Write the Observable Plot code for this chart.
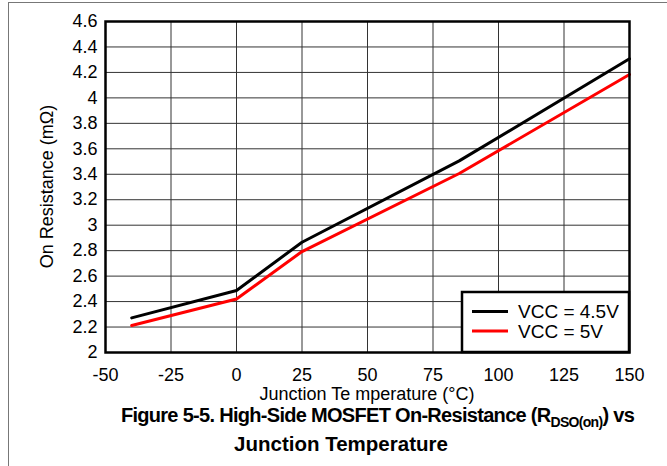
<!DOCTYPE html>
<html><head><meta charset="utf-8">
<script src="https://cdn.jsdelivr.net/npm/d3@7"></script>
<script src="https://cdn.jsdelivr.net/npm/@observablehq/plot@0.6"></script>
<style>
body{margin:0;background:#fff;}
#wrap{position:relative;width:667px;height:466px;overflow:hidden;font-family:"Liberation Sans",Arial,sans-serif;}
#edge{position:absolute;left:8px;top:2px;width:700px;height:500px;border-top:1.5px solid #777;border-left:1.5px solid #777;pointer-events:none;}
</style></head>
<body><div id="wrap"><div id="edge"></div></div>
<script>
// Data
const temps45 = [-40, 0, 25, 85, 150];
const vcc45 = [2.272, 2.487, 2.866, 3.505, 4.307];
const temps5 = [-40, 0, 25, 85, 150];
const vcc5 = [2.212, 2.42, 2.793, 3.406, 4.184];
const seriesNames = ["VCC = 4.5V", "VCC = 5V"];
const seriesColors = ["#000000", "#ff0000"];
const xTicks = [-50, -25, 0, 25, 50, 75, 100, 125, 150];
const yTicks = [2, 2.2, 2.4, 2.6, 2.8, 3, 3.2, 3.4, 3.6, 3.8, 4, 4.2, 4.4, 4.6];
const xLabel = "Junction Te mperature (°C)";
const yLabel = "On Resistance (mΩ)";
const titleLine1 = "Figure 5-5. High-Side MOSFET On-Resistance (R";
const titleSub = "DSO(on)";
const titleLine1End = ") vs";
const titleLine2 = "Junction Temperature";

const data = [
  ...temps45.map((t, i) => ({t, r: vcc45[i], s: seriesNames[0]})),
  ...temps5.map((t, i) => ({t, r: vcc5[i], s: seriesNames[1]}))
];

const font = "Liberation Sans, Arial, sans-serif";
const chart = Plot.plot({
  width: 667, height: 466,
  marginLeft: 105, marginRight: 38, marginTop: 21, marginBottom: 114,
  style: {fontFamily: font, fontSize: "18px", background: "transparent", color: "#000", overflow: "visible"},
  x: {domain: [-50, 150], label: null},
  y: {domain: [2, 4.6], label: null},
  color: {domain: seriesNames, range: seriesColors},
  marks: [
    Plot.gridX(xTicks, {stroke: "#333", strokeOpacity: 1, strokeWidth: 1}),
    Plot.gridY(yTicks, {stroke: "#333", strokeOpacity: 1, strokeWidth: 1}),
    Plot.axisX(xTicks, {tickSize: 0, tickPadding: 16, fontSize: 18, label: null, tickFormat: d => String(d)}),
    Plot.axisY(yTicks, {tickSize: 0, tickPadding: 8, fontSize: 18, label: null, tickFormat: d => String(d)}),
    Plot.line(data, {x: "t", y: "r", z: "s", stroke: "s", strokeWidth: 3, strokeLinejoin: "miter"}),
    Plot.frame({stroke: "#000", strokeWidth: 2.5})
  ]
});
document.getElementById("wrap").appendChild(chart);

const svg = d3.select(chart);
const xs = chart.scale("x"), ys = chart.scale("y");
const x0 = xs.apply(-50), x1 = xs.apply(150), yTop = ys.apply(4.6), yBot = ys.apply(2);
const cx = (x0 + x1) / 2;

// axis labels
svg.append("text").attr("x", cx).attr("y", yBot + 48).attr("text-anchor", "middle")
  .attr("font-family", font).attr("font-size", 18).attr("fill", "#000").text(xLabel);
svg.append("text").attr("transform", `translate(53,${(yTop + yBot) / 2}) rotate(-90)`).attr("text-anchor", "middle")
  .attr("font-family", font).attr("font-size", 18).attr("fill", "#000").text(yLabel);

// legend
const lg = svg.append("g");
const lw = 167, lh = 60;
lg.append("rect").attr("x", x1 - lw).attr("y", yBot - lh).attr("width", lw).attr("height", lh)
  .attr("fill", "#fff").attr("stroke", "#000").attr("stroke-width", 2.5);
seriesNames.forEach((n, i) => {
  const yy = yBot - lh + 19.5 + i * 19.5;
  lg.append("line").attr("x1", x1 - lw + 10).attr("x2", x1 - lw + 46).attr("y1", yy).attr("y2", yy)
    .attr("stroke", seriesColors[i]).attr("stroke-width", 3);
  lg.append("text").attr("x", x1 - lw + 56).attr("y", yy).attr("dy", "0.36em").attr("text-anchor", "start")
    .attr("font-family", font).attr("font-size", 19).attr("fill", "#000").text(n);
});

// title
const t1 = svg.append("text").attr("x", 377.5).attr("y", 422).attr("text-anchor", "middle")
  .attr("font-family", font).attr("font-size", 20).attr("letter-spacing", "-0.7px")
  .attr("font-weight", "bold").attr("fill", "#000");
t1.append("tspan").text(titleLine1);
t1.append("tspan").attr("font-size", 14).attr("dy", 5).text(titleSub);
t1.append("tspan").attr("dy", -5).text(titleLine1End);
svg.append("text").attr("x", 341).attr("y", 451).attr("text-anchor", "middle")
  .attr("font-family", font).attr("font-size", 20.5).attr("font-weight", "bold").attr("fill", "#000").text(titleLine2);
</script>
</body></html>
